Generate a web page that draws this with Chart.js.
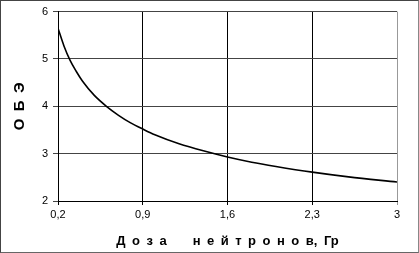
<!DOCTYPE html>
<html>
<head>
<meta charset="utf-8">
<script src="https://cdn.jsdelivr.net/npm/chart.js@4"></script>
<style>
  html, body { margin: 0; padding: 0; background: #fff; }
  #wrap { width: 419px; height: 253px; box-sizing: border-box; border: 1px solid #444; border-right-color: #888; border-bottom-color: #666; position: relative; }
  canvas { position: absolute; left: -1px; top: -1px; }
</style>
</head>
<body>
<div id="wrap"><canvas id="c" width="419" height="253"></canvas></div>
<script>
// dose (Gy) and values
var dose = [0.2, 0.25, 0.3, 0.35, 0.4, 0.5, 0.6, 0.7, 0.8, 0.9, 1.0, 1.2, 1.4, 1.6, 1.8, 2.0, 2.3, 2.6, 3.0];
var obe  = [5.65, 5.27, 4.97, 4.74, 4.54, 4.23, 4.0, 3.81, 3.65, 3.52, 3.4, 3.21, 3.06, 2.93, 2.82, 2.73, 2.61, 2.51, 2.4];
var xTicks = [0.2, 0.9, 1.6, 2.3, 3];
var yTicks = [2, 3, 4, 5, 6];

var pts = dose.map(function(d, i) { return {x: d, y: obe[i]}; });

Chart.defaults.font.family = "'Liberation Sans', Arial, sans-serif";
Chart.defaults.color = "#000";

var chart = new Chart(document.getElementById("c"), {
    type: 'line',
    data: {
        datasets: [{
            data: pts,
            borderColor: '#000',
            borderWidth: 1.6,
            pointRadius: 0,
            cubicInterpolationMode: 'monotone',
            fill: false
        }]
    },
    options: {
        responsive: false,
        animation: false,
        layout: { padding: { top: 4, right: 22, left: 4, bottom: 4 } },
        plugins: { legend: { display: false }, tooltip: { enabled: false } },
        scales: {
            x: {
                type: 'linear',
                min: 0.2,
                max: 3,
                afterBuildTicks: function(s) { s.ticks = xTicks.map(function(v) { return {value: v}; }); },
                ticks: {
                    font: { size: 11 },
                    padding: 3,
                    maxRotation: 0,
                    callback: function(v) { return String(v).replace('.', ','); }
                },
                grid: {
                    color: function(ctx) { return ctx.index === xTicks.length - 1 ? '#999' : '#000'; },
                    lineWidth: 1,
                    tickLength: 4
                },
                border: { color: '#000', width: 1 },
                title: {
                    display: true,
                    text: 'Д\u2002о\u2002з\u2002а\u2003\u2003н\u2002е\u2002й\u2002т\u2002р\u2002о\u2002н\u2002о\u2002в,\u2002Гр',
                    font: { size: 13, weight: 'bold' },
                    padding: { top: 6, bottom: 0 }
                },
                afterFit: function(s) { s.height = 48; }
            },
            y: {
                min: 2,
                max: 6,
                afterBuildTicks: function(s) { s.ticks = yTicks.map(function(v) { return {value: v}; }); },
                ticks: { font: { size: 11 }, padding: 5 },
                grid: { color: '#444', lineWidth: 1, tickLength: 5 },
                border: { color: '#000', width: 1 },
                title: {
                    display: true,
                    text: 'О\u2002Б\u2002Э',
                    font: { size: 15, weight: 'bold' },
                    padding: { top: 7, bottom: 0 }
                },
                afterFit: function(s) { s.width = 54; }
            }
        }
    }
});
</script>
</body>
</html>
